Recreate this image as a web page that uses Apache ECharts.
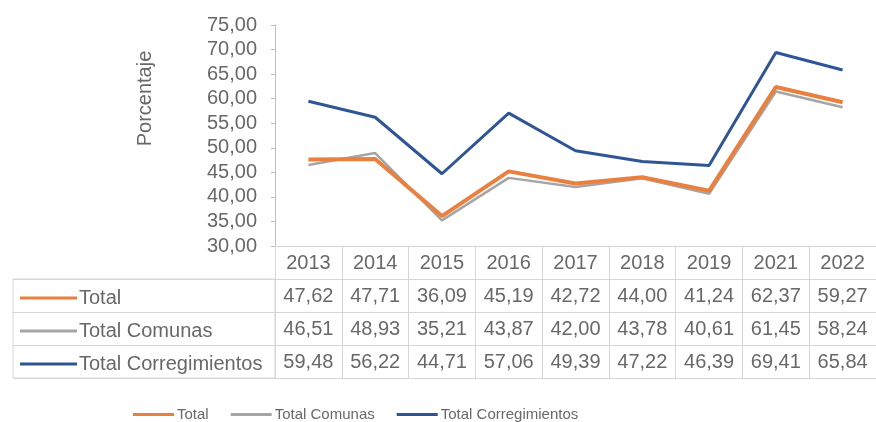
<!DOCTYPE html>
<html>
<head>
<meta charset="utf-8">
<script src="https://cdn.jsdelivr.net/npm/echarts@6/dist/echarts.min.js"></script>
<style>
html,body{margin:0;padding:0;background:#fff;}
#chart{width:876px;height:422px;}
</style>
</head>
<body>
<div id="chart"></div>
<script>
const years = ['2013','2014','2015','2016','2017','2018','2019','2021','2022'];
const total = [47.62,47.71,36.09,45.19,42.72,44.00,41.24,62.37,59.27];
const comunas = [46.51,48.93,35.21,43.87,42.00,43.78,40.61,61.45,58.24];
const corregimientos = [59.48,56.22,44.71,57.06,49.39,47.22,46.39,69.41,65.84];
const seriesNames = ['Total','Total Comunas','Total Corregimientos'];
const yMin = 30, yMax = 75, yStep = 5;
const yName = 'Porcentaje';

const colors = {'Total':'#E9803F','Total Comunas':'#A5A5A5','Total Corregimientos':'#2F5597'};
const txt = '#686868';
const lineCol = '#d6d6d6';
const font = 'Liberation Sans, Arial, sans-serif';
const fs = 20;
const rowH = 33;
const fmt = v => Number(v).toFixed(2).replace('.', ',');

const rows = [null, total, comunas, corregimientos];
const xAxes = rows.map((arr, k) => ({
  type: 'category', gridIndex: 0, data: years, position: 'bottom', offset: k * rowH,
  boundaryGap: true,
  axisLine: {show: true, lineStyle: {color: lineCol, width: 1}},
  axisTick: {show: true, length: rowH, alignWithLabel: false, interval: 0, lineStyle: {color: lineCol}},
  axisLabel: {show: true, interval: 0, margin: 7, color: txt, fontSize: fs, fontFamily: font,
    formatter: arr ? ((v, i) => fmt(arr[i])) : (v => v)},
  splitLine: {show: false}
}));
xAxes.push({
  type: 'category', gridIndex: 0, data: years, position: 'bottom', offset: 4 * rowH,
  axisLine: {show: true, lineStyle: {color: lineCol}},
  axisTick: {show: false}, axisLabel: {show: false}
});
xAxes.push({type: 'value', gridIndex: 1, show: false, min: 0, max: 1});

const legendData = seriesNames.map(n => ({name: n, icon: 'rect', itemStyle: {color: colors[n]}}));

const chart = echarts.init(document.getElementById('chart'));
chart.setOption({
  backgroundColor: '#fff',
  animation: false,
  textStyle: {fontFamily: font},
  grid: [
    {left: 275, right: -2, top: 25, bottom: 176},
    {left: 13, top: 279, width: 262, height: 3 * rowH, show: true, borderColor: lineCol, borderWidth: 1}
  ],
  legend: [
    {data: legendData, left: 128, top: 402, itemWidth: 41, itemHeight: 3, itemGap: 22,
     textStyle: {color: txt, fontSize: 15, fontFamily: font, padding: [0, 0, 0, -2]}},
    {data: legendData, orient: 'vertical', left: 15, top: 283, itemWidth: 57, itemHeight: 3, itemGap: 13,
     textStyle: {color: txt, fontSize: fs, fontFamily: font, padding: [0, 0, 0, -3]}}
  ],
  xAxis: xAxes,
  yAxis: [
    {type: 'value', gridIndex: 0, min: yMin, max: yMax, interval: yStep,
     name: yName, nameLocation: 'middle', nameGap: 120,
     nameTextStyle: {color: txt, fontSize: fs, fontFamily: font, padding: [0, 0, 0, 74]},
     axisLine: {show: true, lineStyle: {color: '#bfbfbf'}},
     axisTick: {show: true, length: 4, lineStyle: {color: '#bfbfbf'}},
     axisLabel: {color: txt, fontSize: fs, fontFamily: font, margin: 18, formatter: v => fmt(v)},
     splitLine: {show: false}},
    {type: 'category', gridIndex: 1, data: seriesNames, inverse: true,
     axisLine: {show: false}, axisTick: {show: false}, axisLabel: {show: false},
     splitLine: {show: true, lineStyle: {color: lineCol}}}
  ],
  series: [
    {name: 'Total Comunas', type: 'line', data: comunas, symbol: 'none',
     lineStyle: {color: colors['Total Comunas'], width: 2.5}, itemStyle: {color: colors['Total Comunas']}},
    {name: 'Total', type: 'line', data: total, symbol: 'none',
     lineStyle: {color: colors['Total'], width: 4}, itemStyle: {color: colors['Total']}},
    {name: 'Total Corregimientos', type: 'line', data: corregimientos, symbol: 'none',
     lineStyle: {color: colors['Total Corregimientos'], width: 3}, itemStyle: {color: colors['Total Corregimientos']}}
  ]
});
</script>
</body>
</html>
